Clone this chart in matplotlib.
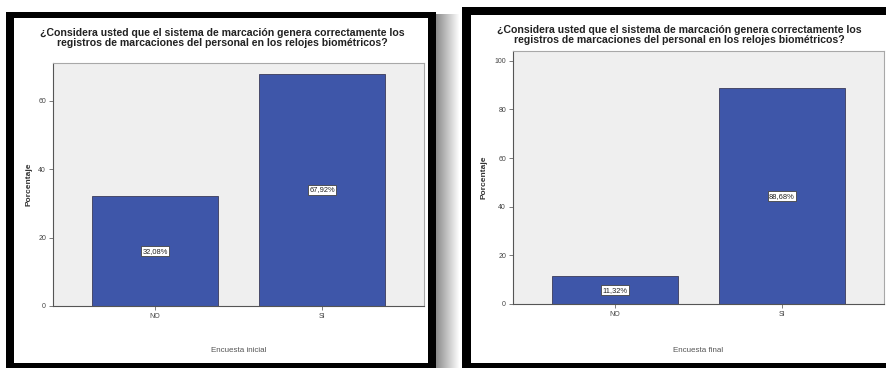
import matplotlib
matplotlib.use("Agg")
import matplotlib.pyplot as plt
from matplotlib.patches import Rectangle
import numpy as np

plt.rcParams['font.family'] = ['Liberation Sans', 'DejaVu Sans']

W, H = 886, 368

categories = ["NO", "SI"]
initial_values = [32.08, 67.92]
final_values = [11.32, 88.68]
initial_yticks = [0, 20, 40, 60]
final_yticks = [0, 20, 40, 60, 80, 100]
title = ("¿Considera usted que el sistema de marcación genera correctamente los\n"
         "registros de marcaciones del personal en los relojes biométricos?")
ylabel = "Porcentaje"
xlabel_initial = "Encuesta inicial"
xlabel_final = "Encuesta final"

BAR = "#3e56a9"
PANEL_BG = "#efefef"

fig = plt.figure(figsize=(W / 100, H / 100), dpi=100)
fig.patch.set_facecolor("white")


def px_box(x0, y0, x1, y1):
    return [x0 / W, 1 - y1 / H, (x1 - x0) / W, (y1 - y0) / H]


def frame(x0, y0, x1, y1, ix0, iy0, ix1, iy1):
    fig.add_artist(Rectangle((x0 / W, 1 - y1 / H), (x1 - x0) / W, (y1 - y0) / H,
                             transform=fig.transFigure, facecolor="black",
                             edgecolor="none", zorder=-2))
    fig.add_artist(Rectangle((ix0 / W, 1 - iy1 / H), (ix1 - ix0) / W, (iy1 - iy0) / H,
                             transform=fig.transFigure, facecolor="white",
                             edgecolor="none", zorder=-1))


# drop shadow between the two frames
for i in range(24):
    g = 0.55 + 0.45 * (i / 23)
    fig.add_artist(Rectangle(((436 + i) / W, 0), 1 / W, 1 - 14 / H,
                             transform=fig.transFigure, facecolor=(g, g, g),
                             edgecolor="none", zorder=-2))

frame(6, 12, 436, 372, 14, 18, 428, 363)
frame(462, 7, 892, 372, 471, 15, 892, 363)


def panel(box, values, yticks, ytop, xlabel, title_xy, ylabel_x, xlabel_y):
    ax = fig.add_axes(px_box(*box))
    ax.set_zorder(2)
    ax.set_facecolor(PANEL_BG)
    x = np.arange(len(categories))
    bars = ax.bar(x, values, width=0.755, color=BAR, edgecolor="#3a3a5a",
                  linewidth=0.6, zorder=2)
    for b, v in zip(bars, values):
        ax.text(b.get_x() + b.get_width() / 2, v / 2, f"{v:.2f}%".replace(".", ","),
                ha="center", va="center", fontsize=5.4, color="#222",
                bbox=dict(boxstyle="square,pad=0.2", facecolor="white",
                          edgecolor="#444", linewidth=0.6), zorder=3)
    ax.set_xlim(-0.611, 1.611)
    ax.set_ylim(0, ytop)
    ax.set_xticks(x)
    ax.set_xticklabels(categories, fontsize=5, color="#444")
    ax.set_yticks(yticks)
    ax.set_yticklabels([str(t) for t in yticks], fontsize=5, color="#444")
    ax.tick_params(length=3, width=0.6, color="#666", pad=2)
    for s in ("top", "right"):
        ax.spines[s].set_color("#a8a8a8")
        ax.spines[s].set_linewidth(0.8)
    for s in ("left", "bottom"):
        ax.spines[s].set_color("#555")
        ax.spines[s].set_linewidth(0.8)
    fig.text(title_xy[0] / W, 1 - title_xy[1] / H, title, ha="center", va="top",
             fontsize=7.6, fontweight="bold", color="#222", linespacing=0.95,
             zorder=3)
    fig.text(ylabel_x / W, 1 - (box[1] + box[3]) / 2 / H, ylabel, rotation=90,
             ha="center", va="center", fontsize=6, fontweight="bold", color="#333",
             zorder=3)
    fig.text((box[0] + box[2]) / 2 / W, 1 - xlabel_y / H, xlabel, ha="center",
             va="center", fontsize=5.8, color="#555", zorder=3)
    return ax


panel((53, 63, 424, 306), initial_values, initial_yticks, 71, xlabel_initial,
      (222, 28), 29, 350)
panel((513, 51, 884, 304), final_values, final_yticks, 104, xlabel_final,
      (679, 25), 484, 350)

fig.savefig("out.png", dpi=100, facecolor="white")
